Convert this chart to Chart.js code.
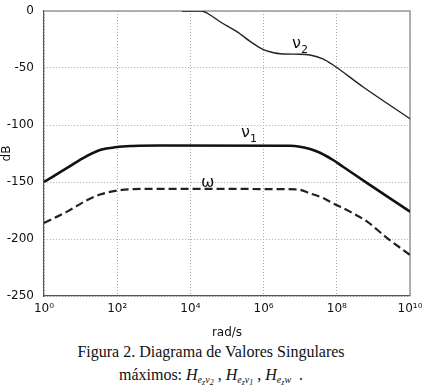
<!DOCTYPE html>
<html>
<head>
<meta charset="utf-8">
<script src="https://cdn.jsdelivr.net/npm/chart.js@4/dist/chart.umd.min.js"></script>
<style>
body { margin: 0; background: #fff; width: 422px; height: 389px; overflow: hidden; position: relative; }
#plot { position: absolute; left: 0; top: 0; }
.cap { position: absolute; left: 0; width: 422px; text-align: center; font-family: "Liberation Serif", "DejaVu Serif", serif; font-size: 16px; color: #111; white-space: nowrap; }
.cap i { font-style: italic; }
.s1 { font-size: 10px; vertical-align: -3px; font-style: italic; }
.s2 { font-size: 8px; vertical-align: -2px; font-style: italic; }
</style>
</head>
<body>
<canvas id="plot" width="422" height="340"></canvas>
<div class="cap" style="top:343px">Figura 2. Diagrama de Valores Singulares</div>
<div class="cap" style="top:366px">máximos: <i>H</i><span class="s1">e<span class="s2">z</span>ν<span class="s2">2</span></span> , <i>H</i><span class="s1">e<span class="s2">z</span>ν<span class="s2">1</span></span> , <i>H</i><span class="s1">e<span class="s2">z</span>w</span> &nbsp;.</div>
<script>
// frecuencias (rad/s) y valores singulares (dB)
const nu2Freq = [5.9e3, 2.04e4, 3.47e4, 6.46e4, 1.86e5, 5.13e5, 9.55e5, 1.48e6, 3.39e6, 9.77e6, 1.86e7, 4.17e7, 7.94e7, 5.25e8, 1e10];
const nu2Db   = [0, 0, -3.5, -9.4, -18.1, -28.4, -33.6, -35.7, -37.7, -37.9, -38.6, -42, -47.4, -66.7, -94.5];

const nu1Freq = [1e0, 4.27e0, 1.17e1, 3.39e1, 9.77e1, 2.69e2, 1.48e3, 5.25e6, 9.8e6, 1.86e7, 3.47e7, 7.9e7, 1.48e8, 6.76e8, 1e10];
const nu1Db   = [-150, -137.7, -129, -122, -119.3, -118.4, -118, -118.2, -119, -121, -124.3, -130.7, -136.6, -151, -176];

const omegaFreq = [1e0, 4.27e0, 1.48e1, 3.39e1, 9.77e1, 2.69e2, 1e3, 8.1e6, 1.86e7, 4.17e7, 7.9e7, 2.29e8, 6.76e8, 2.34e9, 1e10];
const omegaDb   = [-186, -176, -166, -161, -157.6, -156.3, -156, -156.4, -160, -164, -168.7, -176, -184.8, -199, -214];

const xTickValues = [1e0, 1e2, 1e4, 1e6, 1e8, 1e10];
const xTickLabels = ['10⁰', '10²', '10⁴', '10⁶', '10⁸', '10¹⁰'];

const toPoints = (f, d) => f.map((v, i) => ({x: v, y: d[i]}));

// marco superior/derecho y etiquetas de las curvas
const annotate = {
    id: 'annotate',
    beforeDatasetsDraw(chart) {
        const ctx = chart.ctx;
        const a = chart.chartArea;
        ctx.save();
        ctx.strokeStyle = '#999';
        ctx.lineWidth = 1.5;
        ctx.beginPath();
        ctx.moveTo(a.left, a.top);
        ctx.lineTo(a.right, a.top);
        ctx.lineTo(a.right, a.bottom);
        ctx.stroke();
        ctx.restore();
    },
    afterDatasetsDraw(chart) {
        const ctx = chart.ctx;
        ctx.save();
        ctx.fillStyle = '#111';
        ctx.textBaseline = 'alphabetic';
        const label = (txt, sub, x, y) => {
            ctx.font = '16px "DejaVu Sans"';
            ctx.fillText(txt, x, y);
            if (sub) {
                const w = ctx.measureText(txt).width;
                ctx.font = '11px "DejaVu Sans"';
                ctx.fillText(sub, x + w, y + 5);
            }
        };
        label('ν', '2', 292, 48);
        label('ν', '1', 241, 137);
        label('ω', '', 201, 187);
        ctx.restore();
    }
};

new Chart(document.getElementById('plot'), {
    type: 'line',
    data: {
        datasets: [{
            label: 'nu2',
            data: toPoints(nu2Freq, nu2Db),
            borderColor: '#222',
            borderWidth: 1.4,
            pointRadius: 0,
            cubicInterpolationMode: 'monotone'
        }, {
            label: 'nu1',
            data: toPoints(nu1Freq, nu1Db),
            borderColor: '#111',
            borderWidth: 2.6,
            pointRadius: 0,
            cubicInterpolationMode: 'monotone'
        }, {
            label: 'omega',
            data: toPoints(omegaFreq, omegaDb),
            borderColor: '#222',
            borderWidth: 2.2,
            borderDash: [8, 4],
            pointRadius: 0,
            cubicInterpolationMode: 'monotone'
        }]
    },
    options: {
        responsive: false,
        animation: false,
        layout: { padding: { top: 11, right: 12, left: 0, bottom: 0 } },
        plugins: { legend: { display: false }, tooltip: { enabled: false } },
        scales: {
            x: {
                type: 'logarithmic',
                min: 1, max: 1e10,
                afterBuildTicks: s => { s.ticks = xTickValues.map(v => ({value: v})); },
                afterFit: s => { s.height = 44; s.paddingLeft = 0; s.paddingRight = 0; },
                ticks: {
                    autoSkip: false, maxRotation: 0, padding: 6, color: '#111',
                    font: { family: 'DejaVu Sans', size: 12 },
                    callback: (v, i) => xTickLabels[i]
                },
                grid: { color: '#aaa', lineWidth: 1, drawTicks: false },
                border: { color: '#555', width: 1.2, dash: [1, 2] },
                title: { display: true, text: 'rad/s', color: '#111', font: { family: 'DejaVu Sans', size: 12 }, padding: { top: 2, bottom: 0 } }
            },
            y: {
                min: -250, max: 0,
                afterFit: s => { s.width = 44; s.paddingTop = 0; s.paddingBottom = 0; },
                ticks: {
                    stepSize: 50, padding: 10, color: '#111',
                    font: { family: 'DejaVu Sans', size: 12 }
                },
                grid: { color: '#aaa', lineWidth: 1, drawTicks: false },
                border: { color: '#555', width: 1.2, dash: [1, 2] },
                title: { display: true, text: 'dB', color: '#111', font: { family: 'DejaVu Sans', size: 12 }, padding: { top: 0, bottom: 0 } }
            }
        }
    },
    plugins: [annotate]
});
</script>
</body>
</html>
